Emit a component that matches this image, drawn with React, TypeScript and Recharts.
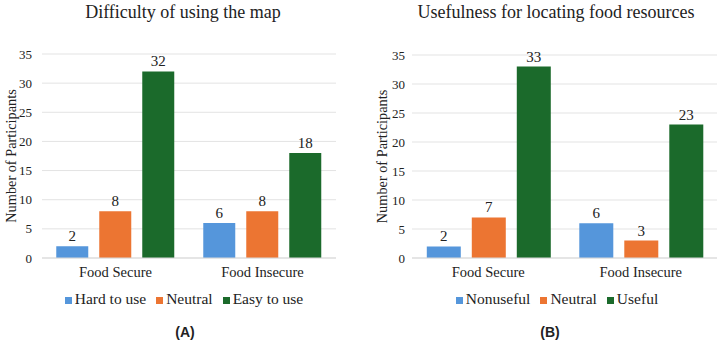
import { Bar, BarChart, CartesianGrid, LabelList, XAxis, YAxis } from "recharts";

const groups = ["Food Secure", "Food Insecure"];
const yTicks = [0, 5, 10, 15, 20, 25, 30, 35];

const difficultyKeys = ["Hard to use", "Neutral", "Easy to use"];
const hardToUse = [2, 6];
const neutralA = [8, 8];
const easyToUse = [32, 18];

const usefulnessKeys = ["Nonuseful", "Neutral", "Useful"];
const nonuseful = [2, 6];
const neutralB = [7, 3];
const useful = [33, 23];

const colors = ["#5596db", "#ec7532", "#1b6a2b"];
const serif = "'Liberation Serif', 'DejaVu Serif', serif";

function rows(keys: string[], series: number[][]) {
  return groups.map((group, i) => {
    const row: Record<string, string | number> = { group };
    keys.forEach((key, k) => {
      row[key] = series[k][i];
    });
    return row;
  });
}

type PanelProps = {
  title: string;
  caption: string;
  keys: string[];
  series: number[][];
  left: number;
  yAxisWidth: number;
  top: number;
  right: number;
  tickGap: number;
  labelOffset: number;
  titleX: number;
  legendX: number;
  captionX: number;
};

// centred block of text around a given x inside the panel
function centred(x: number, top: number) {
  return { position: "absolute" as const, top, left: x - 180, width: 360, textAlign: "center" as const };
}

function Panel(p: PanelProps) {
  const data = rows(p.keys, p.series);
  const plotBottom = 258;
  return (
    <div style={{ position: "absolute", left: p.left, top: 0, width: 362, height: 347, overflow: "visible" }}>
      <BarChart
        width={362}
        height={347}
        data={data}
        margin={{ top: p.top, right: p.right, bottom: 347 - plotBottom - 30, left: 0 }}
        barCategoryGap="9.7%"
        barGap={11}
      >
        <CartesianGrid vertical={false} stroke="#e3e3e3" />
        <XAxis
          dataKey="group"
          axisLine={{ stroke: "#d9d9d9" }}
          tickLine={false}
          tickMargin={3}
          tick={{ fontFamily: serif, fontSize: 14.5, fill: "#222" }}
        />
        <YAxis
          width={p.yAxisWidth}
          domain={[0, 35]}
          ticks={yTicks}
          axisLine={false}
          tickLine={false}
          tickMargin={p.tickGap}
          tick={{ fontFamily: serif, fontSize: 13, fill: "#222" }}
          label={{
            value: "Number of Participants",
            angle: -90,
            position: "insideLeft",
            offset: p.labelOffset,
            style: { textAnchor: "middle", fontFamily: serif, fontSize: 14.3, fill: "#222" },
          }}
        />
        {p.keys.map((key, k) => (
          <Bar key={key} dataKey={key} fill={colors[k]} isAnimationActive={false}>
            <LabelList
              dataKey={key}
              position="top"
              offset={5}
              style={{ fontFamily: serif, fontSize: 15, fill: "#222" }}
            />
          </Bar>
        ))}
      </BarChart>
      <div style={{ ...centred(p.titleX, 2), fontFamily: serif, fontSize: 18, color: "#222" }}>{p.title}</div>
      <div
        style={{
          ...centred(p.legendX, 290),
          display: "flex",
          justifyContent: "center",
          gap: 10,
          fontFamily: serif,
          fontSize: 15.5,
          color: "#222",
        }}
      >
        {p.keys.map((key, k) => (
          <span key={key} style={{ display: "inline-flex", alignItems: "baseline", gap: 3 }}>
            <span style={{ width: 7, height: 7, background: colors[k], display: "inline-block" }} />
            {key}
          </span>
        ))}
      </div>
      <div
        style={{
          ...centred(p.captionX, 324),
          fontFamily: "'Liberation Sans', Arial, sans-serif",
          fontWeight: 700,
          fontSize: 14,
          color: "#222",
        }}
      >
        {p.caption}
      </div>
    </div>
  );
}

export default function App() {
  return (
    <div style={{ position: "absolute", left: 0, top: 0, width: 724, height: 347, background: "#fff", overflow: "hidden" }}>
      <Panel
        title="Difficulty of using the map"
        caption="(A)"
        keys={difficultyKeys}
        series={[hardToUse, neutralA, easyToUse]}
        left={0}
        yAxisWidth={42}
        top={54}
        right={26}
        tickGap={4}
        labelOffset={11}
        titleX={183}
        legendX={184}
        captionX={185}
      />
      <Panel
        title="Usefulness for locating food resources"
        caption="(B)"
        keys={usefulnessKeys}
        series={[nonuseful, neutralB, useful]}
        left={362}
        yAxisWidth={50}
        top={55}
        right={7}
        tickGap={1}
        labelOffset={20}
        titleX={194}
        legendX={195}
        captionX={188}
      />
    </div>
  );
}
